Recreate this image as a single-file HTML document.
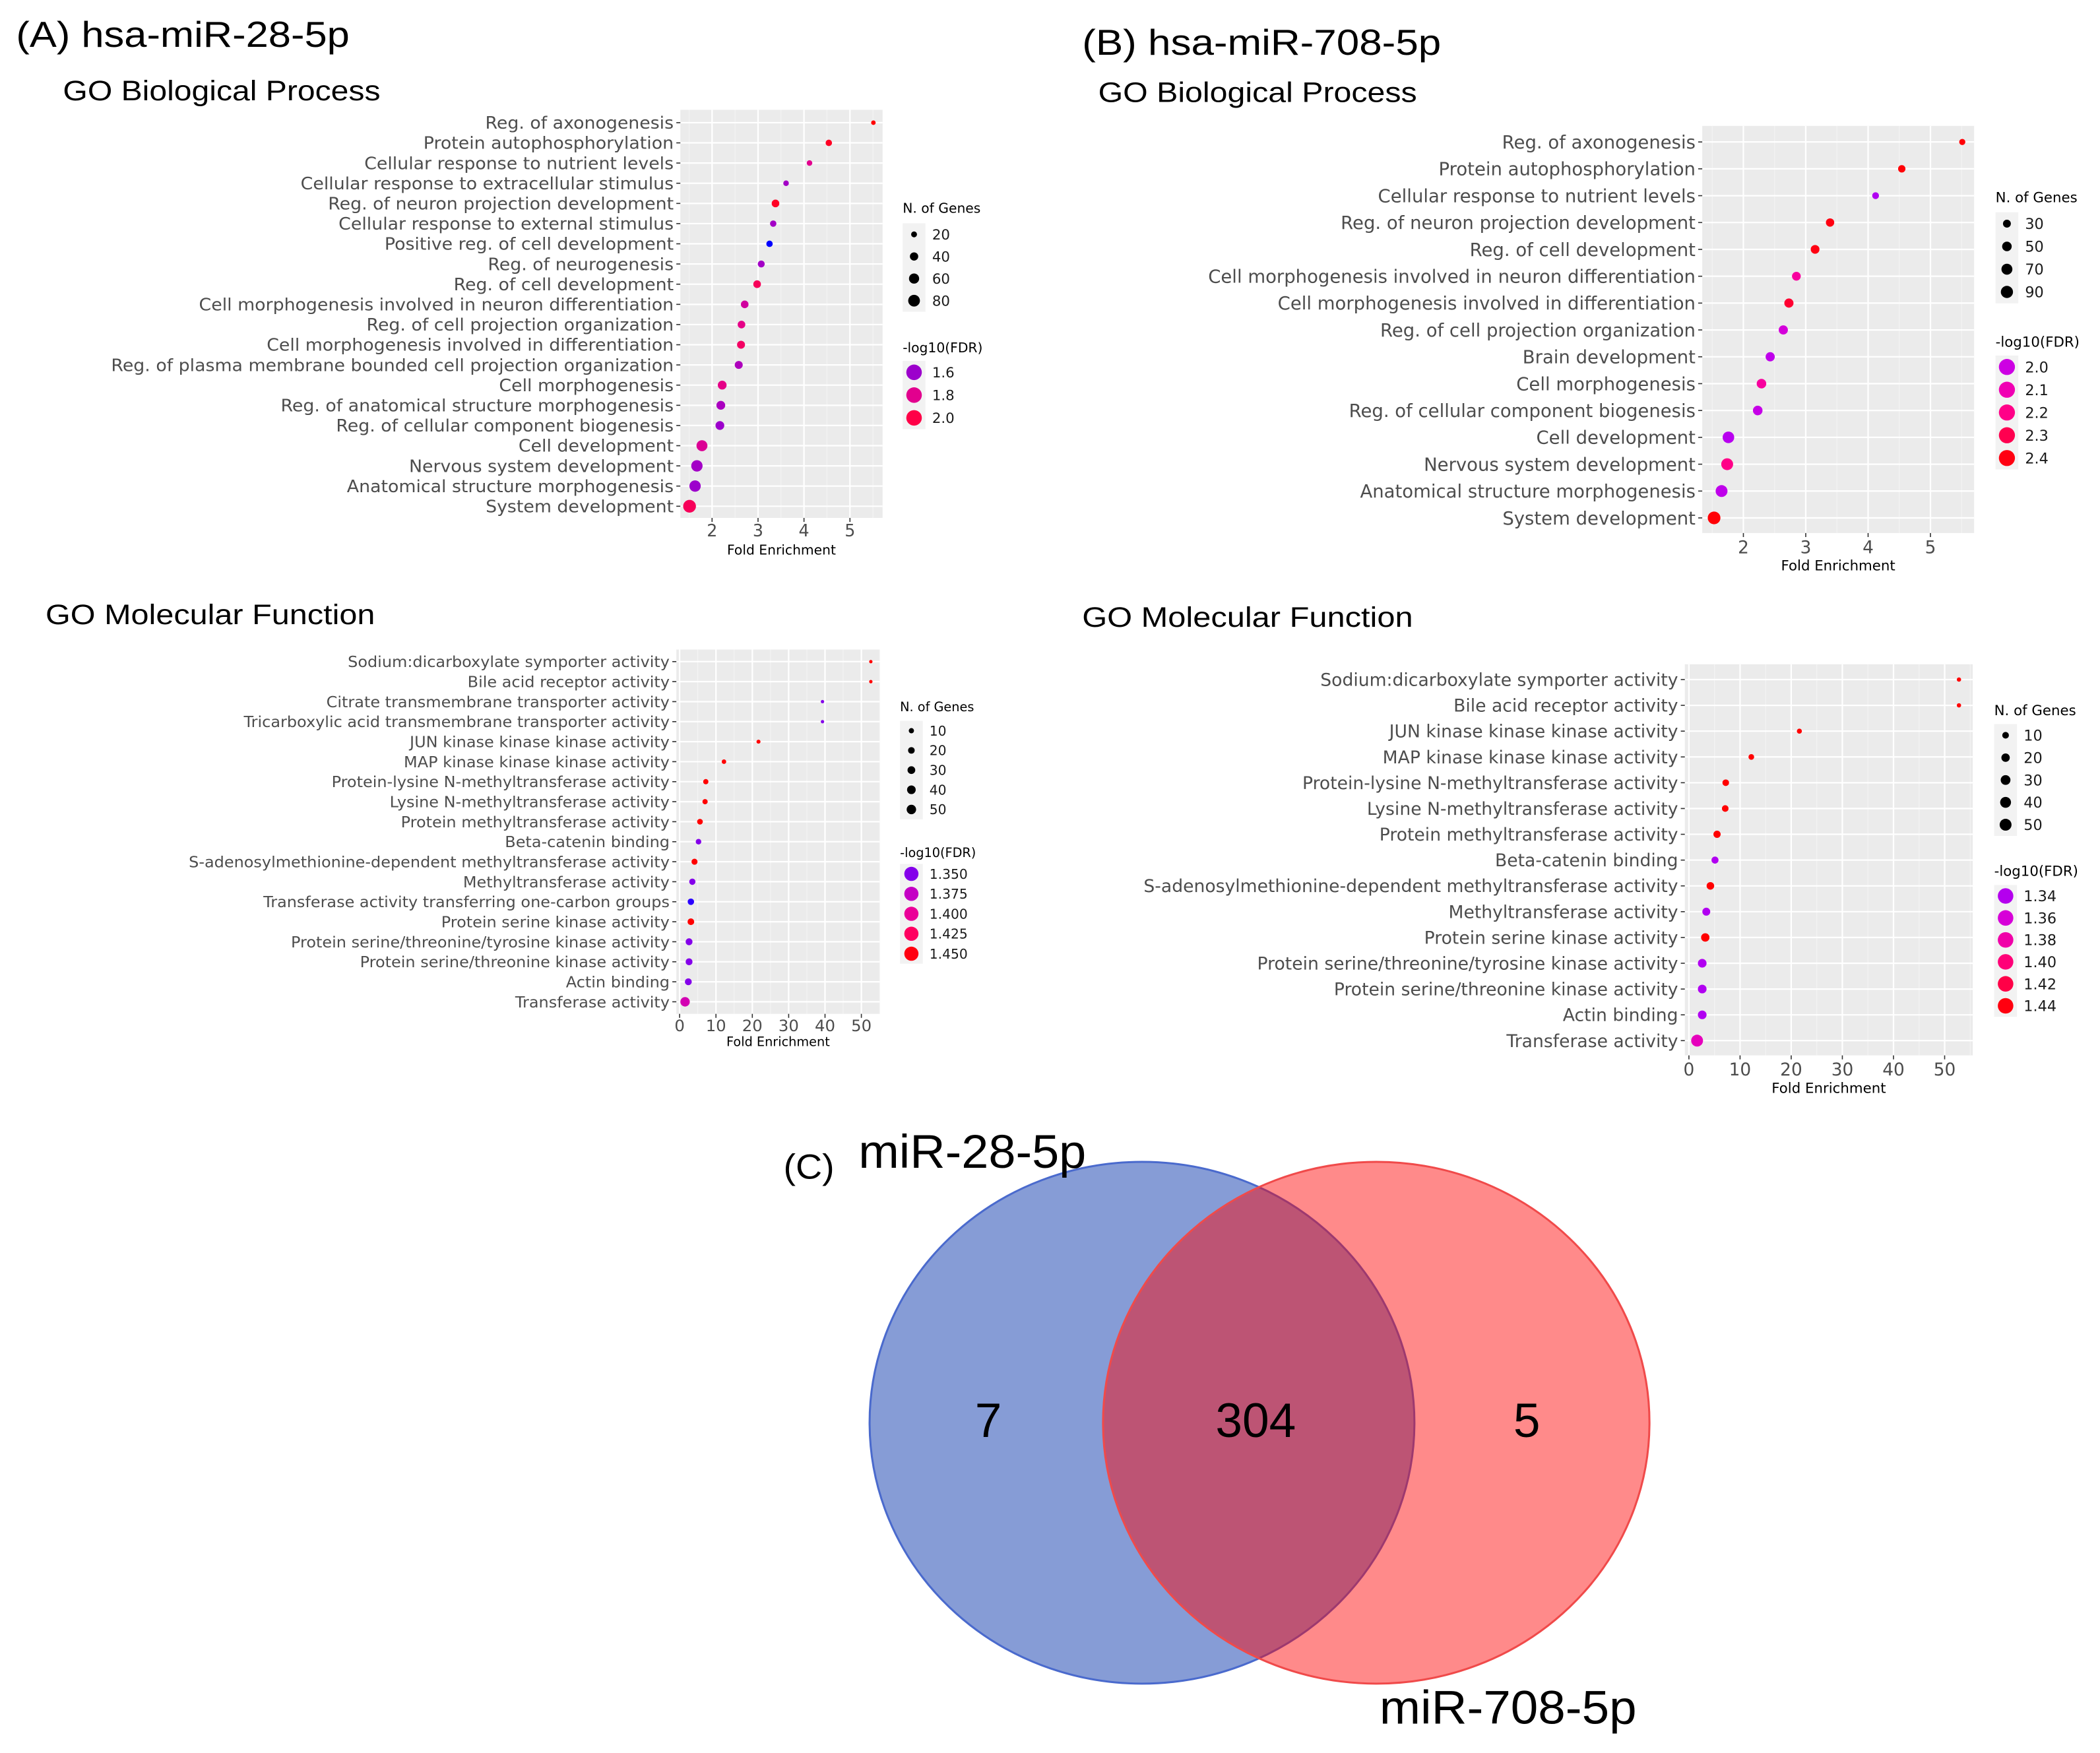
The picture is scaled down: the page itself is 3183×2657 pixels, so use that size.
<!DOCTYPE html>
<html><head><meta charset="utf-8">
<style>
html,body{margin:0;padding:0;background:#fff;}
svg{display:block;}
.gg{font-family:"DejaVu Sans","Liberation Sans",sans-serif;}
.ttl{font-family:"Liberation Sans",sans-serif;fill:#000;}
</style></head>
<body>
<svg id="fig" width="3183" height="2657" viewBox="0 0 1568 1308.9" preserveAspectRatio="none" xmlns="http://www.w3.org/2000/svg">
  <rect x="0" y="0" width="1568" height="1309" fill="#fff"/>
  <text class="ttl" x="12" y="35" font-size="27" textLength="249" lengthAdjust="spacingAndGlyphs">(A) hsa-miR-28-5p</text>
  <text class="ttl" x="47" y="75" font-size="21" textLength="237" lengthAdjust="spacingAndGlyphs">GO Biological Process</text>
  <text class="ttl" x="34" y="466" font-size="21" textLength="246" lengthAdjust="spacingAndGlyphs">GO Molecular Function</text>
  <text class="ttl" x="808" y="41" font-size="27" textLength="268" lengthAdjust="spacingAndGlyphs">(B) hsa-miR-708-5p</text>
  <text class="ttl" x="820" y="76" font-size="21" textLength="238" lengthAdjust="spacingAndGlyphs">GO Biological Process</text>
  <text class="ttl" x="808" y="468" font-size="21" textLength="247" lengthAdjust="spacingAndGlyphs">GO Molecular Function</text>
  <g id="charts"></g>
  <g id="venn"></g>
</svg>
<script>
// ---------- Panel A: Biological Process ----------
const aBpTerms = ["Reg. of axonogenesis","Protein autophosphorylation","Cellular response to nutrient levels","Cellular response to extracellular stimulus","Reg. of neuron projection development","Cellular response to external stimulus","Positive reg. of cell development","Reg. of neurogenesis","Reg. of cell development","Cell morphogenesis involved in neuron differentiation","Reg. of cell projection organization","Cell morphogenesis involved in differentiation","Reg. of plasma membrane bounded cell projection organization","Cell morphogenesis","Reg. of anatomical structure morphogenesis","Reg. of cellular component biogenesis","Cell development","Nervous system development","Anatomical structure morphogenesis","System development"];
const aBpFold = [5.51,4.54,4.12,3.61,3.38,3.33,3.25,3.07,2.98,2.71,2.64,2.63,2.58,2.22,2.19,2.17,1.78,1.67,1.63,1.51];
const aBpGenes = [12,24,18,18,34,24,24,28,34,34,34,37,37,45,45,45,70,75,75,95];
const aBpFdr = [2.1,2.05,1.8,1.62,2.05,1.62,1.45,1.62,1.95,1.75,1.82,1.92,1.65,1.82,1.64,1.6,1.78,1.62,1.6,1.95];
const aBpXTicks = [2,3,4,5];
const aBpSizeKeys = [20,40,60,80];
const aBpColorKeys = ["1.6","1.8","2.0"];

// ---------- Panel B: Biological Process ----------
const bBpTerms = ["Reg. of axonogenesis","Protein autophosphorylation","Cellular response to nutrient levels","Reg. of neuron projection development","Reg. of cell development","Cell morphogenesis involved in neuron differentiation","Cell morphogenesis involved in differentiation","Reg. of cell projection organization","Brain development","Cell morphogenesis","Reg. of cellular component biogenesis","Cell development","Nervous system development","Anatomical structure morphogenesis","System development"];
const bBpFold = [5.51,4.54,4.12,3.39,3.15,2.85,2.73,2.64,2.43,2.29,2.23,1.76,1.74,1.65,1.53];
const bBpGenes = [15,25,20,35,40,40,45,45,45,50,50,80,85,85,100];
const bBpFdr = [2.42,2.42,1.96,2.4,2.4,2.15,2.35,2.02,1.98,2.15,1.99,1.97,2.2,1.98,2.42];
const bBpXTicks = [2,3,4,5];
const bBpSizeKeys = [30,50,70,90];
const bBpColorKeys = ["2.0","2.1","2.2","2.3","2.4"];

// ---------- Panel A: Molecular Function ----------
const aMfTerms = ["Sodium:dicarboxylate symporter activity","Bile acid receptor activity","Citrate transmembrane transporter activity","Tricarboxylic acid transmembrane transporter activity","JUN kinase kinase kinase activity","MAP kinase kinase kinase activity","Protein-lysine N-methyltransferase activity","Lysine N-methyltransferase activity","Protein methyltransferase activity","Beta-catenin binding","S-adenosylmethionine-dependent methyltransferase activity","Methyltransferase activity","Transferase activity transferring one-carbon groups","Protein serine kinase activity","Protein serine/threonine/tyrosine kinase activity","Protein serine/threonine kinase activity","Actin binding","Transferase activity"];
const aMfFold = [52.6,52.6,39.3,39.3,21.7,12.2,7.2,7.0,5.6,5.2,4.1,3.5,3.1,3.1,2.6,2.6,2.4,1.5];
const aMfGenes = [2,2,2,2,4,6,10,10,13,12,15,17,18,20,22,22,22,50];
const aMfFdr = [1.455,1.455,1.35,1.35,1.455,1.455,1.455,1.455,1.455,1.35,1.455,1.35,1.33,1.455,1.35,1.35,1.35,1.385];
const aMfXTicks = [0,10,20,30,40,50];
const aMfSizeKeys = [10,20,30,40,50];
const aMfColorKeys = ["1.350","1.375","1.400","1.425","1.450"];

// ---------- Panel B: Molecular Function ----------
const bMfTerms = ["Sodium:dicarboxylate symporter activity","Bile acid receptor activity","JUN kinase kinase kinase activity","MAP kinase kinase kinase activity","Protein-lysine N-methyltransferase activity","Lysine N-methyltransferase activity","Protein methyltransferase activity","Beta-catenin binding","S-adenosylmethionine-dependent methyltransferase activity","Methyltransferase activity","Protein serine kinase activity","Protein serine/threonine/tyrosine kinase activity","Protein serine/threonine kinase activity","Actin binding","Transferase activity"];
const bMfFold = [52.8,52.8,21.6,12.2,7.2,7.1,5.5,5.1,4.2,3.4,3.2,2.6,2.6,2.6,1.6];
const bMfGenes = [2,2,4,6,10,10,13,12,15,17,20,22,22,22,50];
const bMfFdr = [1.445,1.445,1.445,1.445,1.445,1.445,1.445,1.337,1.445,1.337,1.445,1.337,1.337,1.337,1.372];
const bMfXTicks = [0,10,20,30,40,50];
const bMfSizeKeys = [10,20,30,40,50];
const bMfColorKeys = ["1.34","1.36","1.38","1.40","1.42","1.44"];

// ---------- Venn ----------
const vennSets = ["miR-28-5p","miR-708-5p"];
const vennCounts = [7,304,5];

const NS="http://www.w3.org/2000/svg";
function mk(tag, attrs, parent){const e=document.createElementNS(NS,tag);for(const k in attrs)e.setAttribute(k,attrs[k]);if(parent)parent.appendChild(e);return e;}
function hex(c){return [parseInt(c.slice(1,3),16),parseInt(c.slice(3,5),16),parseInt(c.slice(5,7),16)];}
function grad(stops,t){t=Math.max(0,Math.min(1,t));for(let i=1;i<stops.length;i++){if(t<=stops[i][0]){const a=stops[i-1],b=stops[i];const f=(t-a[0])/(b[0]-a[0]||1);const ca=hex(a[1]),cb=hex(b[1]);return "rgb("+ca.map((v,j)=>Math.round(v+(cb[j]-v)*f)).join(",")+")";}}return stops[stops.length-1][1];}

function drawPanel(cfg, terms, fold, genes, fdr, xTicks, sizeKeys, colorKeys){
  const root=document.getElementById('charts');
  const g=mk('g',{class:'gg'},root);
  
  
  const L=cfg.left,R=cfg.right,T=cfg.top,B=cfg.bottom;
  const xs=v=>L+(v-cfg.xmin)/(cfg.xmax-cfg.xmin)*(R-L);
  const n=terms.length;
  const ys=i=>cfg.y0+i*(cfg.y1-cfg.y0)/(n-1);
  const col=v=>grad(cfg.stops,(v-cfg.dmin)/(cfg.dmax-cfg.dmin));
  const panel=mk('rect',{x:L,y:T,width:R-L,height:B-T,fill:'#ebebeb'},g);
  
  
  const step=xTicks[1]-xTicks[0];
  for(let v=xTicks[0]-step/2; v<=cfg.xmax; v+=step){ if(v<cfg.xmin) continue;
    mk('line',{x1:xs(v),x2:xs(v),y1:T,y2:B,stroke:'#f5f5f5','stroke-width':0.5},g);}
  xTicks.forEach(v=>{const l=mk('line',{x1:xs(v),x2:xs(v),y1:T,y2:B,stroke:'#fff','stroke-width':1.1},g);
    });
  terms.forEach((t,i)=>{mk('line',{x1:L,x2:R,y1:ys(i),y2:ys(i),stroke:'#fff','stroke-width':1.1},g);});
  const lg=mk('g',{},g);
  
  
  const labels=[];
  terms.forEach((t,i)=>{
    mk('line',{x1:L-3,x2:L,y1:ys(i),y2:ys(i),stroke:'#333','stroke-width':0.8},g);
    const tx=mk('text',{x:0,y:0,'font-size':cfg.fs,'text-anchor':'end',fill:'#4d4d4d'},lg);
    tx.textContent=t;
    
    
    labels.push([tx,ys(i)]);
  });
  let maxw=0;labels.forEach(([tx])=>{maxw=Math.max(maxw,tx.getComputedTextLength());});
  const sx=maxw>0?cfg.labelW/maxw:1;
  labels.forEach(([tx,y])=>{tx.setAttribute('transform','translate('+(L-5)+','+(y+cfg.fs*0.36)+') scale('+sx+',1)');});
  xTicks.forEach(v=>{
    mk('line',{x1:xs(v),x2:xs(v),y1:B,y2:B+3,stroke:'#333','stroke-width':0.8},g);
    const tx=mk('text',{x:xs(v),y:cfg.tickY,'font-size':cfg.tfs,'text-anchor':'middle',fill:'#4d4d4d'},g);
    tx.textContent=String(v);
    
    
  });
  const xt=mk('text',{x:(L+R)/2,y:cfg.titleY,'font-size':cfg.afs,'text-anchor':'middle',fill:'#000'},g);
  xt.textContent='Fold Enrichment';
  
  
  terms.forEach((t,i)=>{
    const c=mk('circle',{cx:xs(fold[i]),cy:ys(i),r:cfg.rA+cfg.rB*Math.sqrt(genes[i]),fill:col(fdr[i])},g);
    
    
  });
  const lx=cfg.lx, kx=lx+8.5;
  const lgd=mk('g',{},g);
  
  
  const t1=mk('text',{x:lx,y:cfg.nTitleY,'font-size':cfg.lfs,fill:'#000'},lgd);t1.textContent='N. of Genes';
  
  const ns=cfg.nStep;
  mk('rect',{x:lx,y:cfg.nKey0-ns/2,width:17,height:ns*sizeKeys.length,fill:'#f2f2f2'},lgd);
  sizeKeys.forEach((k,i)=>{const y=cfg.nKey0+i*ns;
    const c=mk('circle',{cx:kx,cy:y,r:cfg.rA+cfg.rB*Math.sqrt(k),fill:'#000'},lgd);
    
    const tx=mk('text',{x:lx+22,y:y+cfg.lfs*0.38,'font-size':cfg.lfs*1.05,fill:'#1a1a1a'},lgd);tx.textContent=String(k);});
  const t2=mk('text',{x:lx,y:cfg.cTitleY,'font-size':cfg.lfs,fill:'#000'},lgd);t2.textContent='-log10(FDR)';
  
  const cs=cfg.cStep;
  mk('rect',{x:lx,y:cfg.cKey0-cs/2,width:17,height:cs*colorKeys.length,fill:'#f2f2f2'},lgd);
  colorKeys.forEach((k,i)=>{const y=cfg.cKey0+i*cs;
    const c=mk('circle',{cx:kx,cy:y,r:cfg.keyR,fill:col(parseFloat(k))},lgd);
    
    const tx=mk('text',{x:lx+22,y:y+cfg.lfs*0.38,'font-size':cfg.lfs*1.05,fill:'#1a1a1a'},lgd);tx.textContent=k;});
}

drawPanel({id:'a-bp',left:508,right:659,top:82,bottom:386.7,xmin:1.31,xmax:5.71,y0:91.6,y1:378,fs:12.5,labelW:420,tfs:12.5,tickY:400.5,afs:10,titleY:414,
  rA:0,rB:0.49,dmin:1.45,dmax:2.1,stops:[[0,'#0000ff'],[0.23,'#9c00cc'],[0.54,'#e2008e'],[0.85,'#ff0046'],[1,'#ff0000']],
  lx:674,lfs:10,nTitleY:159,nKey0:175,nStep:16.5,cTitleY:263,cKey0:278,cStep:17,keyR:5.8},
  aBpTerms,aBpFold,aBpGenes,aBpFdr,aBpXTicks,aBpSizeKeys,aBpColorKeys);

drawPanel({id:'b-bp',left:1271,right:1474,top:94,bottom:398,xmin:1.34,xmax:5.7,y0:106,y1:386.7,fs:13.5,labelW:364,tfs:13,tickY:413,afs:10.5,titleY:426,
  rA:0.75,rB:0.4,dmin:1.95,dmax:2.43,stops:[[0,'#aa00f6'],[0.1,'#cc00e4'],[0.31,'#f000b4'],[0.52,'#ff0088'],[0.73,'#ff0050'],[0.94,'#ff0010'],[1,'#ff0000']],
  lx:1490,lfs:10.5,nTitleY:151,nKey0:167,nStep:17,cTitleY:259,cKey0:274,cStep:17,keyR:6},
  bBpTerms,bBpFold,bBpGenes,bBpFdr,bBpXTicks,bBpSizeKeys,bBpColorKeys);

drawPanel({id:'a-mf',left:505,right:657,top:485,bottom:757,xmin:-0.9,xmax:55.1,y0:494,y1:748,fs:11.5,labelW:359,tfs:12,tickY:770,afs:9.5,titleY:781,
  rA:0.7,rB:0.4,dmin:1.33,dmax:1.455,stops:[[0,'#2a00ff'],[0.16,'#8400ea'],[0.36,'#c400c4'],[0.56,'#ea0098'],[0.76,'#ff0060'],[0.96,'#ff0010'],[1,'#ff0000']],
  lx:672,lfs:9.5,nTitleY:531,nKey0:545.6,nStep:14.7,cTitleY:640,cKey0:652.5,cStep:14.9,keyR:5.3},
  aMfTerms,aMfFold,aMfGenes,aMfFdr,aMfXTicks,aMfSizeKeys,aMfColorKeys);

drawPanel({id:'b-mf',left:1258,right:1473,top:496,bottom:788,xmin:-0.8,xmax:55.5,y0:507.4,y1:777,fs:13,labelW:399,tfs:13,tickY:803,afs:10.5,titleY:816,
  rA:0.9,rB:0.5,dmin:1.335,dmax:1.445,stops:[[0,'#b000f2'],[0.05,'#b400ee'],[0.23,'#d800d8'],[0.41,'#f000a8'],[0.59,'#ff0078'],[0.77,'#ff0048'],[0.95,'#ff0010'],[1,'#ff0000']],
  lx:1489,lfs:10.5,nTitleY:534,nKey0:549,nStep:16.7,cTitleY:654,cKey0:669,cStep:16.4,keyR:5.8},
  bMfTerms,bMfFold,bMfGenes,bMfFdr,bMfXTicks,bMfSizeKeys,bMfColorKeys);

(function(){
  const v=document.getElementById('venn');
  const e1=mk('ellipse',{cx:852.7,cy:1062.3,rx:203.4,ry:194.8,fill:'#869cd6',stroke:'#4a6acd','stroke-width':1.5},v);
  
  
  const e2=mk('ellipse',{cx:1027.6,cy:1062.3,rx:204,ry:194.8,fill:'rgba(255,0,0,0.46)',stroke:'#f04a4a','stroke-width':1.5},v);
  
  
  const style={'font-family':'"Liberation Sans",sans-serif',fill:'#000'};
  const c=mk('text',Object.assign({x:585,y:880,'font-size':26,textLength:38,lengthAdjust:'spacingAndGlyphs'},style),v);c.textContent='(C)';
  
  const s1=mk('text',Object.assign({x:641,y:872,'font-size':35,textLength:170,lengthAdjust:'spacingAndGlyphs'},style),v);s1.textContent=vennSets[0];
  
  const s2=mk('text',Object.assign({x:1030,y:1287,'font-size':35,textLength:192,lengthAdjust:'spacingAndGlyphs'},style),v);s2.textContent=vennSets[1];
  
  const pos=[738,937.6,1140];
  vennCounts.forEach((n,i)=>{const t=mk('text',Object.assign({x:pos[i],y:1073,'font-size':36,'text-anchor':'middle'},style),v);t.textContent=String(n);
    });
})();
</script>
</body></html>
